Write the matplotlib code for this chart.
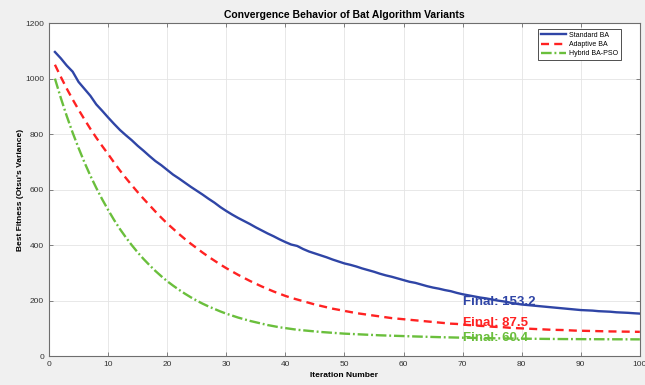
import matplotlib.pyplot as plt

# Iterações e melhor fitness (variância de Otsu) de cada variante
iteracoes = list(range(1, 101))

standard_ba = [
    1096, 1073, 1047, 1025, 988, 963, 938, 907, 884, 860,
    837, 815, 796, 778, 758, 740, 721, 703, 688, 671,
    654, 640, 625, 610, 596, 582, 567, 553, 537, 523,
    510, 498, 487, 476, 464, 453, 442, 432, 421, 411,
    402, 397, 386, 377, 370, 363, 356, 348, 341, 334,
    329, 323, 316, 310, 304, 297, 291, 286, 280, 274,
    268, 264, 258, 252, 247, 243, 238, 234, 228, 223,
    219, 215, 211, 208, 204, 200, 197, 193, 189, 186,
    184, 182, 180, 178, 176, 174, 172, 170, 168, 166,
    165, 164, 162, 161, 160, 158, 157, 156, 154.5, 153.2,
]

adaptive_ba = [
    1050, 1006, 964, 925, 888, 853, 819, 787, 757, 728,
    698, 669, 642, 616, 591, 567, 544, 521, 499, 478,
    459, 440, 422, 405, 389, 373, 358, 344, 330, 317,
    305, 293, 282, 271, 261, 251, 242, 233, 225, 217,
    210, 204, 198, 192, 186, 181, 176, 171, 167, 163,
    159, 155, 152, 149, 146, 143, 140, 137, 135, 133,
    131, 129, 127, 125, 123, 121, 119, 117, 116, 114,
    112, 111, 109, 108, 106, 105, 104, 102, 101, 100,
    99, 98, 97, 96, 95, 94.5, 94, 93, 92, 91.5,
    91, 90.5, 90, 89.5, 89, 88.8, 88.4, 88.1, 87.8, 87.5,
]

hybrid_ba_pso = [
    1000, 930, 865, 805, 750, 698, 650, 606, 565, 527,
    491, 458, 428, 400, 374, 350, 328, 307, 288, 270,
    254, 239, 225, 212, 200, 189, 179, 170, 161, 153,
    146, 139, 133, 127, 122, 117, 112, 108, 104, 101,
    98, 95, 93, 91, 89, 87, 85.5, 84, 82.5, 81,
    80, 79, 78, 77, 76, 75, 74.3, 73.6, 72.9, 72.2,
    71.5, 70.8, 70.2, 69.6, 69, 68.4, 67.9, 67.4, 66.9, 66.4,
    66, 65.6, 65.2, 64.8, 64.4, 64.1, 63.8, 63.5, 63.2, 62.9,
    62.7, 62.5, 62.3, 62.1, 61.9, 61.7, 61.5, 61.4, 61.3, 61.2,
    61.1, 61, 60.9, 60.8, 60.7, 60.65, 60.6, 60.5, 60.45, 60.4,
]

# Posição dos rótulos "Final"
rotulo_x = 70
rotulo_y = [195, 119, 65]

plt.rcParams['font.family'] = ['Liberation Sans', 'DejaVu Sans']
fig = plt.figure(figsize=(6.45, 3.85), dpi=100, facecolor='#f0f0f0')
ax = fig.add_axes([0.076, 0.075, 0.916, 0.865])

cores = ['#2f45a6', '#ff2222', '#6abf3c']
ax.plot(iteracoes, standard_ba, color=cores[0], lw=1.7, label='Standard BA')
ax.plot(iteracoes, adaptive_ba, color=cores[1], lw=1.7, linestyle=(0, (3.4, 2.2)), label='Adaptive BA')
ax.plot(iteracoes, hybrid_ba_pso, color=cores[2], lw=1.7, linestyle=(0, (4.5, 1.2, 0.8, 1.2)),
        label='Hybrid BA-PSO')

finais = [standard_ba[-1], adaptive_ba[-1], hybrid_ba_pso[-1]]
for valor, y, cor in zip(finais, rotulo_y, cores):
    ax.text(rotulo_x, y, f'Final: {valor:.1f}', color=cor, fontsize=9.5,
            fontweight='bold', ha='left', va='center')

ax.set_xlim(0, 100)
ax.set_ylim(0, 1200)
ax.set_xticks(range(0, 101, 10))
ax.set_yticks(range(0, 1201, 200))
ax.tick_params(direction='in', top=True, right=True, labelsize=6, length=3,
               color='#6e6e6e', labelcolor='#333333', width=0.6)
for s in ax.spines.values():
    s.set_color('#6e6e6e')
    s.set_linewidth(0.8)
ax.grid(True, color='#e4e4e4', lw=0.6)
ax.set_axisbelow(True)

ax.set_title('Convergence Behavior of Bat Algorithm Variants', fontsize=7.5,
             fontweight='bold', pad=4)
ax.set_xlabel('Iteration Number', fontsize=6, fontweight='bold', labelpad=3)
ax.set_ylabel("Best Fitness (Otsu's Variance)", fontsize=6, fontweight='bold', labelpad=1)

leg = ax.legend(loc='upper right', handlelength=3.6, fancybox=False,
                framealpha=1, edgecolor='#333333', borderpad=0.4, labelspacing=0.3,
                handletextpad=0.4, borderaxespad=0, bbox_to_anchor=(0.968, 0.982),
                prop={'size': 5})
leg.get_frame().set_linewidth(0.6)

plt.savefig('out.png', dpi=100, facecolor=fig.get_facecolor())
